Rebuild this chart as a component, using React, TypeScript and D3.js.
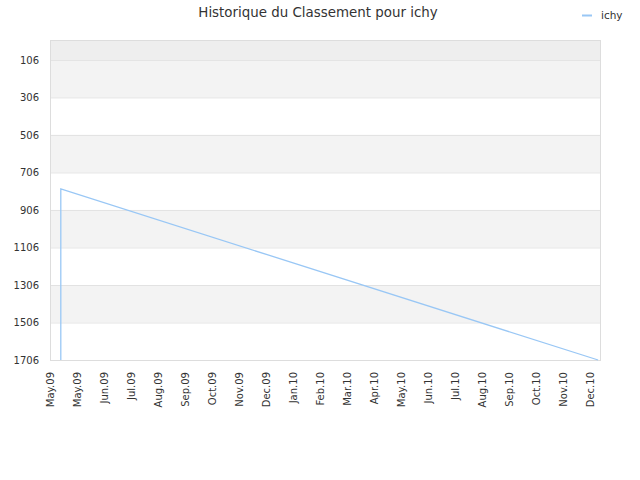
import React, { useEffect, useRef } from 'react';
import * as d3 from 'd3';

// Chart data
const monthLabels = [
  'May.09', 'May.09', 'Jun.09', 'Jul.09', 'Aug.09', 'Sep.09', 'Oct.09', 'Nov.09',
  'Dec.09', 'Jan.10', 'Feb.10', 'Mar.10', 'Apr.10', 'May.10', 'Jun.10', 'Jul.10',
  'Aug.10', 'Sep.10', 'Oct.10', 'Nov.10', 'Dec.10',
];
const rankTicks = [106, 306, 506, 706, 906, 1106, 1306, 1506, 1706];
// month offset from the first label, ranking value
const rankMonths = [0.4, 0.4, 20.3];
const rankValues = [1706, 794, 1706];

const App: React.FC = () => {
  const ref = useRef<SVGSVGElement>(null);

  useEffect(() => {
    if (!ref.current) return;
    const svg = d3.select(ref.current);
    svg.selectAll('*').remove();

    const left = 50, right = 600, top = 40, bottom = 360;
    const font = 'DejaVu Sans, sans-serif';

    const x = d3.scaleLinear().domain([0, 20.37]).range([left, right]);
    const y = d3.scaleLinear().domain([0, 1706]).range([top, bottom]);

    // background bands
    const edges = [0, ...rankTicks];
    for (let i = 0; i < edges.length - 1; i++) {
      const fill = i === 0 ? '#eeeeee' : i % 2 === 1 ? '#f3f3f3' : '#ffffff';
      svg.append('rect')
        .attr('x', left)
        .attr('y', y(edges[i]))
        .attr('width', right - left)
        .attr('height', y(edges[i + 1]) - y(edges[i]))
        .attr('fill', fill);
    }

    // grid lines
    svg.selectAll('.grid')
      .data(rankTicks)
      .enter()
      .append('line')
      .attr('x1', left)
      .attr('x2', right)
      .attr('y1', (d) => y(d) + 0.5)
      .attr('y2', (d) => y(d) + 0.5)
      .attr('stroke', '#e2e2e2');

    // frame
    svg.append('rect')
      .attr('x', left + 0.5)
      .attr('y', top + 0.5)
      .attr('width', right - left)
      .attr('height', bottom - top)
      .attr('fill', 'none')
      .attr('stroke', '#dddddd');

    // y labels
    svg.selectAll('.ylab')
      .data(rankTicks)
      .enter()
      .append('text')
      .attr('x', 39)
      .attr('y', (d) => y(d) + 4)
      .attr('text-anchor', 'end')
      .attr('font-family', font)
      .attr('font-size', '10px')
      .attr('fill', '#333')
      .text((d) => d);

    // x labels
    svg.selectAll('.xlab')
      .data(monthLabels)
      .enter()
      .append('text')
      .attr('transform', (_d, i) => `translate(${x(i) + 3.5},${bottom + 12}) rotate(-90)`)
      .attr('text-anchor', 'end')
      .attr('font-family', font)
      .attr('font-size', '10px')
      .attr('fill', '#333')
      .text((d) => d);

    // ranking line
    const pts = rankMonths.map((m, i) => [m, rankValues[i]] as [number, number]);
    const line = d3.line<[number, number]>()
      .x((d) => x(d[0]))
      .y((d) => y(d[1]));
    svg.append('path')
      .datum(pts)
      .attr('fill', 'none')
      .attr('stroke', '#99c7f5')
      .attr('stroke-width', 1.3)
      .attr('d', line);

    // title
    svg.append('text')
      .attr('x', 318)
      .attr('y', 17)
      .attr('text-anchor', 'middle')
      .attr('font-family', font)
      .attr('font-size', '13.4px')
      .attr('fill', '#333')
      .text('Historique du Classement pour ichy');

    // legend
    svg.append('line')
      .attr('x1', 582)
      .attr('x2', 592)
      .attr('y1', 15.5)
      .attr('y2', 15.5)
      .attr('stroke', '#99c7f5')
      .attr('stroke-width', 2);
    svg.append('text')
      .attr('x', 601)
      .attr('y', 19)
      .attr('font-family', font)
      .attr('font-size', '10.5px')
      .attr('fill', '#333')
      .text('ichy');
  }, []);

  return (
    <svg
      ref={ref}
      width={640}
      height={480}
      style={{ position: 'absolute', left: 0, top: 0, background: '#fff' }}
    />
  );
};

export default App;
